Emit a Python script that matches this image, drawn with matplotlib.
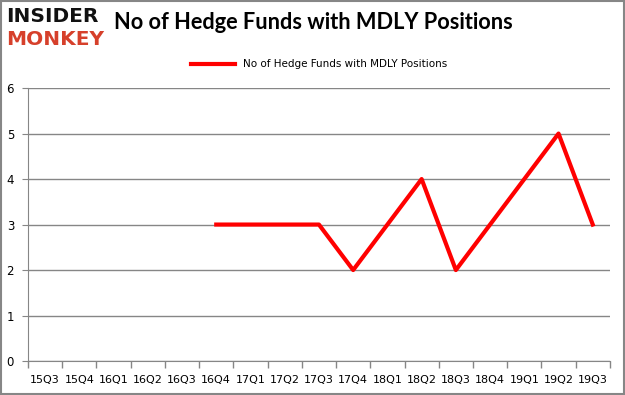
import matplotlib.pyplot as plt
import numpy as np

quarters = ['15Q3', '15Q4', '16Q1', '16Q2', '16Q3', '16Q4', '17Q1', '17Q2', '17Q3',
            '17Q4', '18Q1', '18Q2', '18Q3', '18Q4', '19Q1', '19Q2', '19Q3']
funds = [np.nan, np.nan, np.nan, np.nan, np.nan, 3, 3, 3, 3, 2, 3, 4, 2, 3, 4, 5, 3]

grey = '#868686'

fig = plt.figure(figsize=(6.25, 3.95), dpi=100)
ax = fig.add_axes([0.0448, 0.086, 0.931, 0.691])

x = np.arange(len(quarters))
ax.plot(x, funds, color='#ff0000', lw=3, label='No of Hedge Funds with MDLY Positions')

ax.set_xlim(-0.5, len(quarters) - 0.5)
ax.set_ylim(0, 6)
ax.set_yticks(range(7))
ax.yaxis.grid(True, color=grey, lw=1)
ax.set_axisbelow(True)

# category labels centered, tick marks between categories
ax.set_xticks(x)
ax.set_xticklabels(quarters, fontsize=8)
ax.tick_params(axis='x', which='major', length=0, pad=10)
ax.set_xticks(np.arange(-0.5, len(quarters)), minor=True)
ax.tick_params(axis='x', which='minor', length=5, color=grey, width=1)
ax.tick_params(axis='y', length=4, color=grey, labelsize=8.5, pad=6)

for s in ['top', 'right']:
    ax.spines[s].set_visible(False)
for s in ['left', 'bottom']:
    ax.spines[s].set_color(grey)

ax.legend(loc='upper center', bbox_to_anchor=(0.5, 1.14), frameon=False, fontsize=7.5,
          handlelength=4.2)

fig.text(0.182, 0.943, 'No of Hedge Funds with MDLY Positions', fontsize=15.7,
         fontweight='bold', family='Lato', va='center', ha='left')
fig.text(0.010, 0.958, 'INSIDER', fontsize=14.5, fontweight='black', color='#111111',
         va='center', ha='left')
fig.text(0.010, 0.900, 'MONKEY', fontsize=14.5, fontweight='black', color='#d6402b',
         va='center', ha='left')

# outer frame
fig.patches.append(plt.Rectangle((0.001, 0.002), 0.997, 0.996, transform=fig.transFigure,
                                 fill=False, edgecolor=grey, lw=1.5))

fig.savefig('out.png', dpi=100)
